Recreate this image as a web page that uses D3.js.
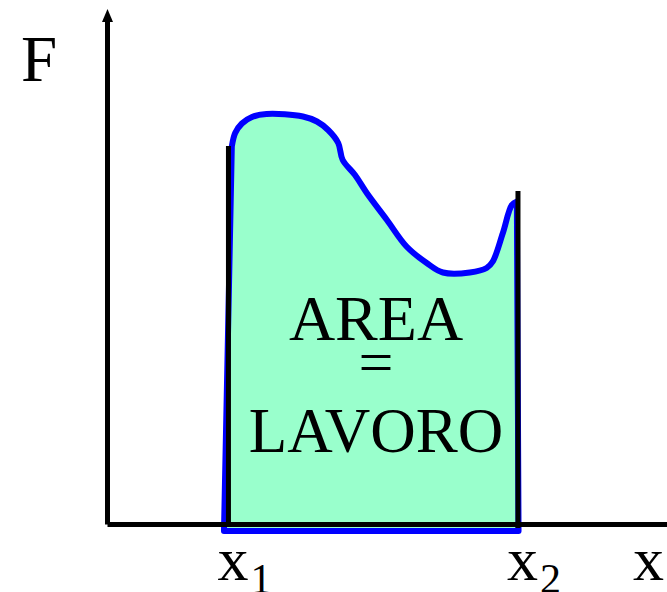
<!doctype html>
<html>
  <head>
    <script src="https://cdnjs.cloudflare.com/ajax/libs/d3/7.8.5/d3.min.js"></script>
  </head>
  <body style="margin:0">
    <svg width="667" height="592"></svg>
    <script>
        // position along x (0-100) and force F (0-100)
        var curveX = [22.2, 22.8, 24.0, 25.8, 28.4, 34.9, 37.4, 39.4, 41.2, 42.0, 44.2, 46.3,
                      49.9, 53.4, 57.0, 59.9, 64.7, 67.7, 68.8, 70.6, 72.2, 73.1];
        var curveF = [75.6, 78.3, 80.2, 81.5, 82.1, 81.6, 80.6, 78.9, 76.3, 72.9, 69.9, 66.3,
                      60.9, 55.6, 52.3, 50.4, 50.4, 51.3, 52.6, 58.3, 63.9, 64.6];
        // where the outline closes below the axis
        var baseX = [20.8, 73.4];
        var baseF = -1.3;

        // the two black bounds x1, x2
        var boundX = [21.6, 73.3];
        var boundBottom = [0, -0.7];
        var boundTop = [75.7, 66.7];
        var boundNames = ["1", "2"];

        var svg = d3.select("svg");

        var x = d3.scaleLinear().domain([0, 100]).range([107.5, 667.5]);
        var y = d3.scaleLinear().domain([0, 100]).range([524.5, 24.5]);

        var pts = curveX.map((d, i) => [d, curveF[i]]);

        var curveLine = d3.line()
            .x(d => x(d[0]))
            .y(d => y(d[1]))
            .curve(d3.curveCatmullRom.alpha(0.5));

        var outline = "M" + x(baseX[0]) + "," + y(baseF) +
            "L" + curveLine(pts).slice(1) +
            "L" + x(baseX[1]) + "," + y(baseF) + "Z";

        // area under the curve
        svg.append("path")
            .attr("d", outline)
            .attr("fill", "#99ffcc")
            .attr("stroke", "#0000ff")
            .attr("stroke-width", 6)
            .attr("stroke-linejoin", "round");

        // bounds
        svg.selectAll("line.bound")
            .data(boundX)
            .enter()
            .append("line")
                .attr("class", "bound")
                .attr("x1", d => x(d))
                .attr("x2", d => x(d))
                .attr("y1", (d, i) => y(boundBottom[i]))
                .attr("y2", (d, i) => y(boundTop[i]))
                .attr("stroke", "#000")
                .attr("stroke-width", 5);

        // axes
        svg.append("line")
            .attr("x1", x(0)).attr("x2", x(100))
            .attr("y1", y(0)).attr("y2", y(0))
            .attr("stroke", "#000").attr("stroke-width", 5);
        svg.append("line")
            .attr("x1", x(0)).attr("x2", x(0))
            .attr("y1", y(0)).attr("y2", 20)
            .attr("stroke", "#000").attr("stroke-width", 5);
        svg.append("path")
            .attr("d", d3.line()([[x(0) - 5.5, 22], [x(0), 9], [x(0) + 5.5, 22]]) + "Z")
            .attr("fill", "#000");

        // labels, all in the Times-like face
        var labels = [
            {t: "F", x: 21, y: 81, s: 65, a: "start"},
            {t: "x", x: 633, y: 580, s: 62, a: "start"},
            {t: "AREA", x: 376, y: 340, s: 64, a: "middle"},
            {t: "=", x: 376, y: 383, s: 62, a: "middle"},
            {t: "LAVORO", x: 376, y: 452, s: 63, a: "middle"}
        ];
        svg.selectAll("text.lab")
            .data(labels)
            .enter()
            .append("text")
                .attr("class", "lab")
                .attr("x", d => d.x)
                .attr("y", d => d.y)
                .attr("font-size", d => d.s)
                .attr("text-anchor", d => d.a)
                .style("font-family", "'Liberation Serif'")
                .text(d => d.t);

        var sub = svg.selectAll("text.bound")
            .data(boundX)
            .enter()
            .append("text")
                .attr("class", "bound")
                .attr("x", d => x(d) - 11)
                .attr("y", 580)
                .attr("font-size", 62)
                .style("font-family", "'Liberation Serif'");
        sub.append("tspan").text("x");
        sub.append("tspan")
            .attr("dy", 13)
            .attr("dx", 2)
            .attr("font-size", 42)
            .text((d, i) => boundNames[i]);
    </script>
  </body>
</html>
